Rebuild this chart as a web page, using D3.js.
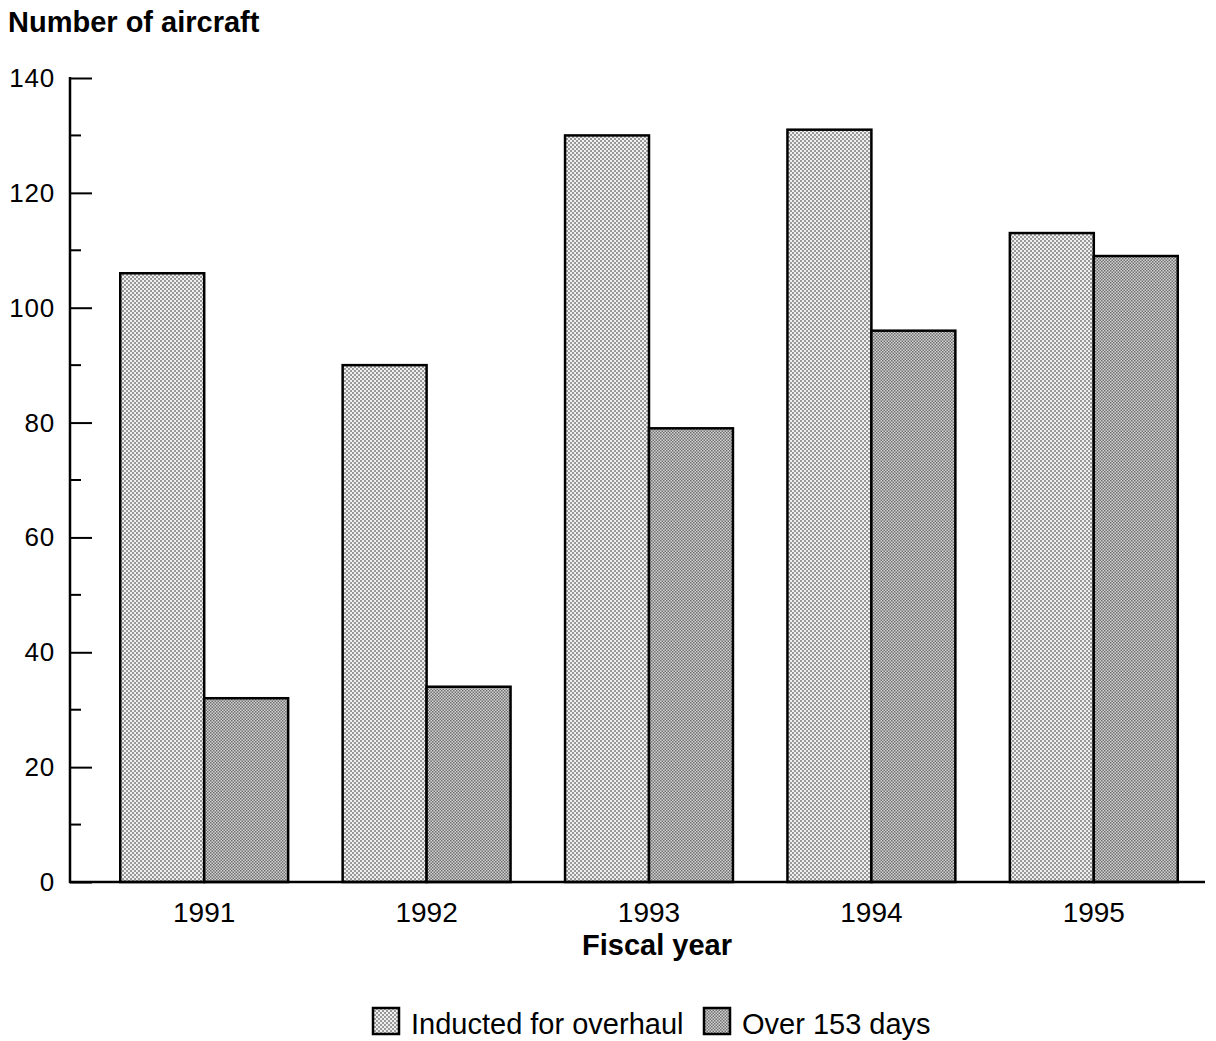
<!DOCTYPE html>
<html><head><meta charset="utf-8">
<script src="https://cdn.jsdelivr.net/npm/d3@7"></script>
<style>body{margin:0;background:#fff}svg{display:block}text{font-family:"Liberation Sans",Arial,sans-serif;fill:#000}</style>
</head><body><svg id="c" width="1216" height="1041"></svg>
<script>
const years = ["1991","1992","1993","1994","1995"];
const inducted = [106, 90, 130, 131, 113];
const over153 = [32, 34, 79, 96, 109];
const seriesNames = ["Inducted for overhaul", "Over 153 days"];
const yTicks = [0,20,40,60,80,100,120,140];

const svg = d3.select("#c");
const defs = svg.append("defs");
function pat(id, bg, dot, size){
  const p = defs.append("pattern").attr("id",id).attr("patternUnits","userSpaceOnUse")
    .attr("width",size).attr("height",size);
  p.append("rect").attr("width",size).attr("height",size).attr("fill",bg);
  p.append("rect").attr("x",0).attr("y",0).attr("width",size/2).attr("height",size/2).attr("fill",dot);
  p.append("rect").attr("x",size/2).attr("y",size/2).attr("width",size/2).attr("height",size/2).attr("fill",dot);
}
pat("pLight","#f0f0f0","#999",4);
pat("pDark","#d2d2d2","#707070",3);
const fills = ["url(#pLight)","url(#pDark)"];

const y = d3.scaleLinear().domain([0,140]).range([882,78]);
const x = d3.scaleBand().domain(years).range([93,1205]).paddingInner(0.245).paddingOuter(0.1225);
const xs = d3.scaleBand().domain([0,1]).range([0,x.bandwidth()]);

const data = years.map((yr,i)=>({yr, vals:[inducted[i], over153[i]]}));
const g = svg.append("g");
data.forEach(d=>{
  d.vals.forEach((v,j)=>{
    g.append("rect").attr("x",x(d.yr)+xs(j)).attr("y",y(v))
      .attr("width",xs.bandwidth()).attr("height",y(0)-y(v))
      .attr("fill",fills[j]).attr("stroke","#000").attr("stroke-width",2.5);
  });
});

// y axis
const ya = svg.append("g").attr("transform","translate(70,0)")
  .call(d3.axisRight(y).tickValues(yTicks).tickSize(22).tickFormat(""));
ya.select(".domain").remove();
ya.selectAll("line").attr("stroke","#000").attr("stroke-width",2);
const minor = d3.range(10,140,20);
svg.append("g").selectAll("line").data(minor).join("line")
  .attr("x1",70).attr("x2",81).attr("y1",d=>y(d)).attr("y2",d=>y(d)).attr("stroke","#000").attr("stroke-width",2);
svg.append("line").attr("x1",70).attr("x2",70).attr("y1",77).attr("y2",883).attr("stroke","#000").attr("stroke-width",2.5);
svg.append("g").selectAll("text").data(yTicks).join("text")
  .attr("x",55).attr("y",d=>y(d)+9).attr("text-anchor","end").attr("font-size",26).attr("letter-spacing",0.8).text(d=>d);

// x axis
svg.append("line").attr("x1",69).attr("x2",1205).attr("y1",882).attr("y2",882).attr("stroke","#000").attr("stroke-width",2.5);
svg.append("g").selectAll("text").data(years).join("text")
  .attr("x",d=>x(d)+x.bandwidth()/2).attr("y",922).attr("text-anchor","middle").attr("font-size",28).text(d=>d);

svg.append("text").attr("x",8).attr("y",32).attr("font-size",29).attr("font-weight","bold").text("Number of aircraft");
svg.append("text").attr("x",657).attr("y",955).attr("text-anchor","middle").attr("font-size",29).attr("font-weight","bold").text("Fiscal year");

// legend
const lg = svg.append("g");
const lx = [373, 704];
const tx = [411, 742];
seriesNames.forEach((n,i)=>{
  lg.append("rect").attr("x",lx[i]).attr("y",1008).attr("width",26).attr("height",26)
    .attr("fill",fills[i]).attr("stroke","#000").attr("stroke-width",2.5);
  lg.append("text").attr("x",tx[i]).attr("y",1034).attr("font-size",29).text(n);
});
</script></body></html>
